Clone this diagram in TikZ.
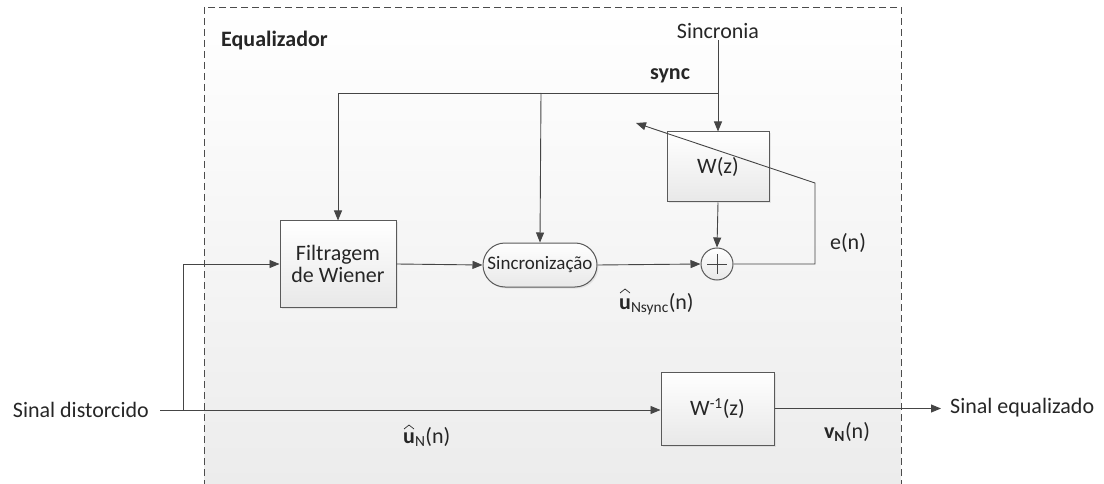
\documentclass[tikz,border=0pt]{standalone}
\usepackage{fontspec}
\setmainfont{Carlito}
\usetikzlibrary{arrows.meta,shadows,calc}

\definecolor{linec}{HTML}{454545}
\definecolor{textc}{HTML}{262626}
\definecolor{boxedge}{HTML}{5A5A5A}

\tikzset{
  every node/.style={text=textc, font=\fontsize{22}{24}\selectfont},
  wire/.style={draw=linec, line width=0.9pt},
  arr/.style={wire, -{Triangle[length=10pt,width=8pt]}},
  block/.style={draw=boxedge, line width=1pt, top color=white, bottom color=black!9,
    drop shadow={opacity=0.15, shadow xshift=1.5pt, shadow yshift=-1.5pt},
    inner sep=0pt, align=center},
  pill/.style={block, rounded corners=22pt, font=\fontsize{19}{21}\selectfont},
  sumnode/.style={draw=boxedge, line width=1pt, circle, minimum size=32pt, inner sep=0pt,
    top color=white, bottom color=black!9},
  lbl/.style={inner sep=0pt},
  hatmark/.style={draw=textc, line width=0.7pt}
}

\begin{document}
\begin{tikzpicture}[x=1pt,y=-1pt]
\useasboundingbox (0,0) rectangle (1104,484);
\clip (0,0) rectangle (1104,484);

% enclosing equalizer region
\draw[dashed, dash pattern=on 7pt off 4pt, draw=black!70, line width=0.9pt,
      top color=white, bottom color=black!8] (204,7) rectangle (901,520);
\node[lbl, font=\fontsize{22}{24}\selectfont\bfseries, anchor=west] (title) at (221,41) {Equalizador};

% blocks
\node[block, minimum width=116pt, minimum height=86pt] (wien) at (338,264) {Filtragem\\[-2pt]de Wiener};
\node[pill, minimum width=114pt, minimum height=44pt] (sinc) at (540,265) {Sincronização};
\node[block, minimum width=102pt, minimum height=70pt] (wz) at (718,167) {W(z)};
\node[sumnode] (sum) at (717,264) {};
\draw[linec, line width=0.9pt] ($(sum.center)+(-10,0)$) -- ($(sum.center)+(10,0)$)
  ($(sum.center)+(0,-10)$) -- ($(sum.center)+(0,10)$);
\node[block, minimum width=113pt, minimum height=73pt] (winv) at (717.5,408.5) {W\textsuperscript{-1}(z)};

% texts
\node[lbl] (sincronia) at (718,31) {Sincronia};
\node[lbl, font=\fontsize{22}{24}\selectfont\bfseries] (synclbl) at (670,76) {sync};
\node[lbl] (en) at (848,243) {e(n)};
\node[lbl, anchor=base west] (unsync) at (619,309) {\textbf{u}\textsubscript{Nsync}(n)};
\node[lbl, anchor=base west] (un) at (403,443) {\textbf{u}\textsubscript{N}(n)};
\node[lbl] (vn) at (847,432) {\textbf{v}\textsubscript{\textbf{N}}(n)};
\node[lbl, anchor=east] (sin) at (149,410) {Sinal distorcido};
\node[lbl, anchor=west] (sout) at (950,408) {Sinal equalizado};

% circumflex accents floating above the u labels
\draw[hatmark] ($(unsync.base west)+(1,-16)$) -- ++(5,-4) -- ++(5,4);
\draw[hatmark] ($(un.base west)+(1,-14)$) -- ++(5,-4) -- ++(5,4);

% junction points
\coordinate (stop) at (718,40);
\coordinate (s1) at (718,93);
\coordinate (s2) at (541,93);
\coordinate (e1) at (815,264);
\coordinate (e2) at (815,183);
\coordinate (e3) at (636,123);
\coordinate (in0) at (160,410);
\coordinate (br) at (183,410);
\coordinate (out) at (941,408.5);

% synchronisation signal
\draw[arr] (stop) -- (wz.north);
\draw[arr] (s1) -| (wien.north);
\draw[arr] (s2) -- (sinc.north);

% main path
\draw[arr] (wien.east) -- (sinc.west);
\draw[arr] (sinc.east) -- (sum.west);
\draw[arr] (wz.south) -- (sum.north);
\draw[arr] (sum.east) -- (e1) -- (e2) -- (e3);

% input and output
\draw[arr] (in0) -- (winv.west |- in0);
\draw[arr] (br) |- (wien.west);
\draw[arr] (winv.east |- out) -- (out);
\end{tikzpicture}
\end{document}
